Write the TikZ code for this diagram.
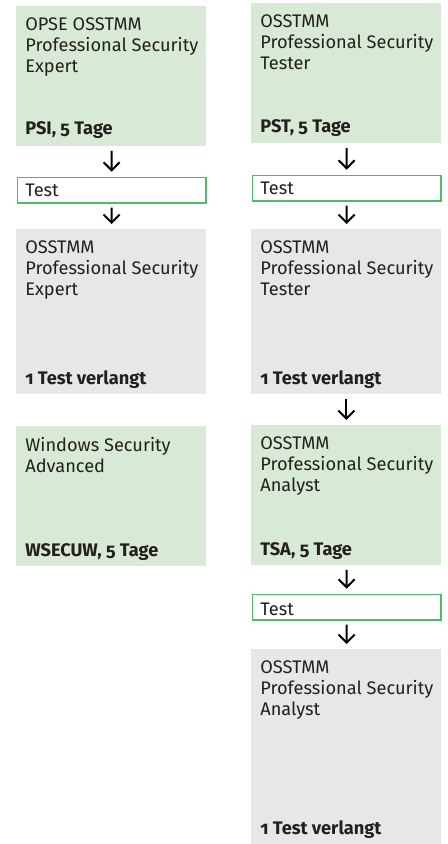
\documentclass[tikz,border=0pt]{standalone}
\usepackage{fontspec}
\setmainfont{Fira Sans}[RawFeature=+onum]
\usetikzlibrary{arrows.meta}
\definecolor{kursgruen}{RGB}{216,234,213}
\definecolor{zertgrau}{RGB}{230,231,233}
\definecolor{testrand}{RGB}{77,188,106}
\definecolor{schrift}{RGB}{35,31,32}

\begin{document}
\begin{tikzpicture}[x=0.5pt,y=-0.5pt,
	kurs/.style={fill=kursgruen,anchor=north west,minimum width=95pt,minimum height=70pt,inner sep=0pt},
	zert/.style={fill=zertgrau,anchor=north west,minimum width=95pt,inner sep=0pt},
	pruefung/.style={draw=testrand,line width=0.7pt,anchor=north west,minimum width=94.3pt,minimum height=12.8pt,inner sep=0pt},
	titel/.style={anchor=north west,align=left,inner sep=0pt,text=schrift,font=\fontsize{9.1}{10.5}\selectfont},
	dauer/.style={anchor=base west,inner sep=0pt,text=schrift,font=\fontsize{9.1}{10.5}\selectfont\bfseries},
	pfeil/.style={-{Straight Barb[length=4pt,width=8pt]},line width=1pt,shorten <=2pt,shorten >=2.5pt}]
	\useasboundingbox (0,0) rectangle (448,844);
	\node[kurs] (pse) at (16,6) {};
	\node[kurs] (pst) at (251,3) {};
	\node[pruefung] (testpse) at (16.7,176.7) {};
	\node[pruefung] (testpst) at (251.7,174.7) {};
	\node[zert,minimum height=82.5pt] (pseZ) at (16,229) {};
	\node[zert,minimum height=82.5pt] (pstZ) at (251,229) {};
	\node[kurs] (wsec) at (16,426) {};
	\node[kurs] (tsa) at (251,425) {};
	\node[pruefung] (testtsa) at (251.7,593.7) {};
	\node[zert,minimum height=97.5pt] (tsaZ) at (251,649) {};
	\node[titel] (pseT) at (25,17) {OPSE OSSTMM\\Professional Security\\Expert};
	\node[titel] (pstT) at (260,14) {OSSTMM\\Professional Security\\Tester};
	\node[titel] (pseZT) at (25,240) {OSSTMM\\Professional Security\\Expert};
	\node[titel] (pstZT) at (260,240) {OSSTMM\\Professional Security\\Tester};
	\node[titel] (wsecT) at (25,437) {Windows Security\\Advanced};
	\node[titel] (tsaT) at (260,436) {OSSTMM\\Professional Security\\Analyst};
	\node[titel] (tsaZT) at (260,660) {OSSTMM\\Professional Security\\Analyst};
	\node[dauer] (pseD) at (25,135) {PSI, 5 Tage};
	\node[dauer] (pstD) at (260,133) {PST, 5 Tage};
	\node[dauer] (pseZD) at (25,384) {1 Test verlangt};
	\node[dauer] (pstZD) at (260,384) {1 Test verlangt};
	\node[dauer] (wsecD) at (25,556) {WSECUW, 5 Tage};
	\node[dauer] (tsaD) at (260,555) {TSA, 5 Tage};
	\node[dauer] (tsaZD) at (260,834) {1 Test verlangt};
	\node[dauer,font=\fontsize{9.1}{10.5}\selectfont] (testpseT) at (25,197) {Test};
	\node[dauer,font=\fontsize{9.1}{10.5}\selectfont] (testpstT) at (260,195) {Test};
	\node[dauer,font=\fontsize{9.1}{10.5}\selectfont] (testtsaT) at (260,615) {Test};
	\path[pfeil] (pse) edge (testpse);
	\path[pfeil] (testpse) edge (pseZ);
	\path[pfeil] (pst) edge (testpst);
	\path[pfeil] (testpst) edge (pstZ);
	\path[pfeil] (pstZ) edge (tsa);
	\path[pfeil] (tsa) edge (testtsa);
	\path[pfeil] (testtsa) edge (tsaZ);
\end{tikzpicture}
\end{document}
